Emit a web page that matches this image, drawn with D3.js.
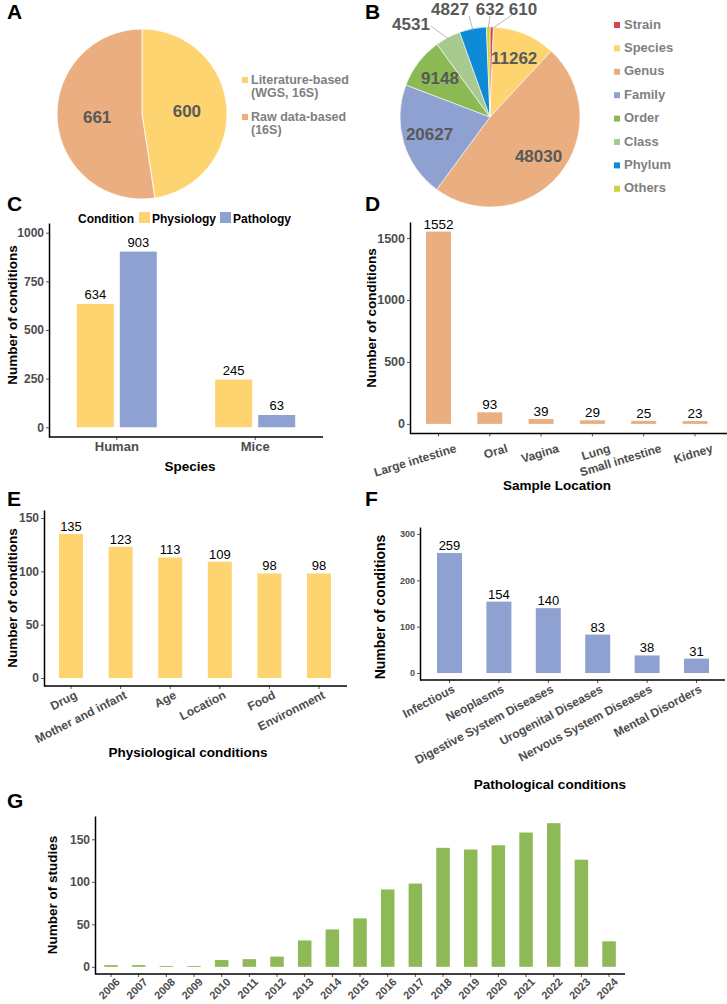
<!DOCTYPE html>
<html>
<head>
<meta charset="utf-8">
<script src="https://cdn.jsdelivr.net/npm/d3@7"></script>
<style>
  body { margin: 0; background: #fff; }
  svg { font-family: "Liberation Sans", Arial, sans-serif; }
</style>
</head>
<body>
<svg id="fig" width="727" height="1004"></svg>
<script>
// ---- data ----
var sourceTypes = ["Literature-based (WGS, 16S)", "Raw data-based (16S)"]
var sourceCounts = [600, 661]

var ranks = ["Strain", "Species", "Genus", "Family", "Order", "Class", "Phylum", "Others"]
var rankCounts = [610, 11262, 48030, 20627, 9148, 4531, 4827, 632]

var species = ["Human", "Mice"]
var physiologyCounts = [634, 245]
var pathologyCounts = [903, 63]

var locations = ["Large intestine", "Oral", "Vagina", "Lung", "Small intestine", "Kidney"]
var locationCounts = [1552, 93, 39, 29, 25, 23]

var physioConditions = ["Drug", "Mother and infant", "Age", "Location", "Food", "Environment"]
var physioCounts = [135, 123, 113, 109, 98, 98]

var pathoConditions = ["Infectious", "Neoplasms", "Digestive System Diseases", "Urogenital Diseases", "Nervous System Diseases", "Mental Disorders"]
var pathoCounts = [259, 154, 140, 83, 38, 31]

var years = ["2006","2007","2008","2009","2010","2011","2012","2013","2014","2015","2016","2017","2018","2019","2020","2021","2022","2023","2024"]
var studyCounts = [2, 2, 1, 1, 8, 9, 12, 31, 44, 57, 91, 98, 140, 138, 143, 158, 169, 126, 30]

var cTicks = [0, 250, 500, 750, 1000]
var dTicks = [0, 500, 1000, 1500]
var eTicks = [0, 50, 100, 150]
var fTicks = [0, 100, 200, 300]
var gTicks = [0, 50, 100, 150]

// ---- colours ----
var yellow = "#FDD470"
var orange = "#EAAE80"
var blue = "#8FA1D0"
var green = "#8DB956"
var rankColors = ["#D9434B", "#FDD470", "#EAAE80", "#8FA1D0", "#8BBA55", "#A8C98F", "#0E8AD7", "#C9D43A"]
var tickGray = "#4D4D4D"
var pieText = "#595959"
var legendGray = "#7F7F7F"

var svg = d3.select("#fig")
svg.append("rect").attr("width", 727).attr("height", 1004).attr("fill", "#fff")

function panelLetter(t, x, y) {
    svg.append("text").attr("x", x).attr("y", y)
        .style("font-size", "21px").style("font-weight", "bold").attr("fill", "#000")
        .text(t)
}

// ================= A : pie =================
panelLetter("A", 7, 19)
var pieGen = d3.pie().sort(null).value(d => d)
var gA = svg.append("g").attr("transform", "translate(142,114)")
var arcA = d3.arc().innerRadius(0).outerRadius(85)
var labA = d3.arc().innerRadius(45).outerRadius(45)
var aColors = [yellow, orange]
var arcsA = pieGen(sourceCounts)
gA.selectAll("path").data(arcsA).enter().append("path")
    .attr("d", arcA).attr("fill", (d, i) => aColors[i])
    .attr("stroke", "#fff").attr("stroke-width", 0.8)
gA.selectAll("text").data(arcsA).enter().append("text")
    .attr("transform", d => "translate(" + labA.centroid(d) + ")")
    .attr("text-anchor", "middle").attr("dy", "0.35em")
    .style("font-size", "17px").style("font-weight", "bold").attr("fill", pieText)
    .text(d => d.data)

var legA = svg.append("g").attr("transform", "translate(242,0)")
var aLines = [["Literature-based", "(WGS, 16S)"], ["Raw data-based", "(16S)"]]
sourceTypes.forEach(function(s, i) {
    var y0 = 84 + i * 37
    legA.append("rect").attr("x", 0).attr("y", y0 - 7).attr("width", 6).attr("height", 6).attr("fill", aColors[i])
    aLines[i].forEach(function(l, j) {
        legA.append("text").attr("x", 9).attr("y", y0 + j * 13)
            .style("font-size", "12.5px").style("font-weight", "bold").attr("fill", legendGray)
            .text(l)
    })
})

// ================= B : pie =================
panelLetter("B", 365, 19)
var cxB = 490, cyB = 117, rB = 90
var gB = svg.append("g").attr("transform", "translate(" + cxB + "," + cyB + ")")
var arcB = d3.arc().innerRadius(0).outerRadius(rB)
var labB = d3.arc().innerRadius(rB * 0.7).outerRadius(rB * 0.7)
var edgeB = d3.arc().innerRadius(rB - 2).outerRadius(rB - 2)
var arcsB = pieGen(rankCounts)
gB.selectAll("path").data(arcsB).enter().append("path")
    .attr("d", arcB).attr("fill", (d, i) => rankColors[i])
    .attr("stroke", "#fff").attr("stroke-width", 0.6)

// big slices get their label inside
var insideRanks = ["Species", "Genus", "Family", "Order"]
gB.selectAll("text.inside").data(arcsB.filter((d, i) => insideRanks.includes(ranks[i]))).enter()
    .append("text").attr("class", "inside")
    .attr("transform", d => "translate(" + labB.centroid(d) + ")")
    .attr("text-anchor", "middle").attr("dy", "0.3em")
    .style("font-size", "17px").style("font-weight", "bold").attr("fill", pieText)
    .text(d => d.data)

// small slices: labels above with leader lines (label offsets are layout only)
var outside = { "Class": [-79, -93], "Phylum": [-40, -108], "Others": [0, -108], "Strain": [33, -108] }
var lineStart = { "Class": [-59, -91], "Phylum": [-21, -101], "Others": [0, -101], "Strain": [22, -102] }
arcsB.forEach(function(d, i) {
    var r = ranks[i]
    if (!outside[r]) return
    var e = edgeB.centroid(d)
    gB.append("line")
        .attr("x1", lineStart[r][0]).attr("y1", lineStart[r][1])
        .attr("x2", e[0]).attr("y2", e[1])
        .attr("stroke", "#A6A6A6").attr("stroke-width", 0.8)
    gB.append("text")
        .attr("x", outside[r][0]).attr("y", outside[r][1]).attr("dy", "0.35em")
        .attr("text-anchor", "middle")
        .style("font-size", "17px").style("font-weight", "bold").attr("fill", pieText)
        .text(d.data)
})

var legB = svg.append("g").attr("transform", "translate(614,0)")
ranks.forEach(function(r, i) {
    var y0 = 24 + i * 23.4
    legB.append("rect").attr("x", 0).attr("y", y0 - 2).attr("width", 6).attr("height", 6).attr("fill", rankColors[i])
    legB.append("text").attr("x", 10).attr("y", y0).attr("dy", "0.35em")
        .style("font-size", "13px").style("font-weight", "bold").attr("fill", legendGray)
        .text(r)
})

// ================= axes helpers =================
function yAxis(g, y, x0, ticks, font) {
    var ya = g.append("g").attr("transform", "translate(" + x0 + ",0)")
        .call(d3.axisLeft(y).tickValues(ticks).tickFormat(d3.format("d")).tickSize(3).tickSizeOuter(0).tickPadding(2))
    ya.select(".domain").attr("stroke", "#000").attr("stroke-width", 1.5)
    ya.selectAll(".tick line").attr("stroke", "#555")
    ya.selectAll(".tick text").style("font-size", font).style("font-weight", "bold").attr("fill", tickGray)
    return ya
}

// x axis: tick marks from d3, labels drawn separately so they can be rotated
function xAxis(g, x, base, left, right, o) {
    var xa = g.append("g").attr("transform", "translate(0," + base + ")")
        .call(d3.axisBottom(x).tickSize(3).tickSizeOuter(0))
    xa.select(".domain").remove()
    xa.selectAll(".tick line").attr("stroke", "#555")
    xa.selectAll(".tick text").remove()
    g.append("line").attr("x1", left).attr("x2", right)
        .attr("y1", base).attr("y2", base).attr("stroke", "#000").attr("stroke-width", 1.5)
    var off = x.bandwidth ? x.bandwidth() / 2 : 0
    x.domain().forEach(function(c) {
        var px = x(c) + off
        var t = g.append("text")
            .style("font-size", o.xFont).style("font-weight", "bold").attr("fill", tickGray)
        if (o.angle) {
            t.attr("transform", "translate(" + (px + o.xShift) + "," + (base + o.xDrop) + ") rotate(" + (-o.angle) + ")")
                .attr("text-anchor", "end").attr("dy", "0.72em")
        } else {
            t.attr("x", px).attr("y", base + o.xDrop).attr("text-anchor", "middle").attr("dy", "0.72em")
        }
        t.text(c)
    })
}

function yTitle(g, text, x, y, font) {
    g.append("text")
        .attr("transform", "translate(" + x + "," + y + ") rotate(-90)")
        .attr("text-anchor", "middle").attr("dy", "0.35em")
        .style("font-size", font || "13.5px").style("font-weight", "bold").attr("fill", "#000")
        .text(text)
}

function xTitle(g, text, x, y) {
    g.append("text").attr("x", x).attr("y", y).attr("text-anchor", "middle")
        .style("font-size", "13.5px").style("font-weight", "bold").attr("fill", "#000")
        .text(text)
}

function barPanel(o) {
    var g = svg.append("g")
    var n = o.cats.length
    var inner = 1 - o.barW / o.step
    var x = d3.scaleBand().domain(o.cats)
        .range([o.c0 - o.step / 2, o.c0 - o.step / 2 + n * o.step])
        .paddingInner(inner).paddingOuter(inner / 2)
    var y = d3.scaleLinear().domain(o.yDomain).range(o.yRange)

    g.selectAll("rect.bar").data(o.vals).enter().append("rect").attr("class", "bar")
        .attr("x", (d, i) => x(o.cats[i]))
        .attr("width", x.bandwidth())
        .attr("y", d => y(d))
        .attr("height", d => y(0) - y(d))
        .attr("fill", o.color)

    if (o.showValues) {
        g.selectAll("text.val").data(o.vals).enter().append("text").attr("class", "val")
            .attr("x", (d, i) => x(o.cats[i]) + x.bandwidth() / 2)
            .attr("y", d => y(d) - 3)
            .attr("text-anchor", "middle")
            .style("font-size", o.valFont).attr("fill", "#000")
            .text(d => d)
    }

    yAxis(g, y, o.axisLeft, o.ticks, o.tickFont)
    xAxis(g, x, o.yRange[0], o.axisLeft, o.axisRight, o)
    if (o.title) xTitle(g, o.title, o.titleX, o.titleY)
    yTitle(g, o.ylab, o.ylabX, o.ylabY, o.ylabFont)
}

// ================= C : grouped bars =================
panelLetter("C", 7, 211)
var yC = d3.scaleLinear().domain([-50, 1050]).range([437, 223])
var xC = d3.scaleBand().domain(species).range([49 + 124.5 * 0.1, 323 - 124.5 * 0.1]).paddingInner(0.2).paddingOuter(0)
var gC = svg.append("g")
var condSeries = [{ key: "Physiology", vals: physiologyCounts, color: yellow },
                  { key: "Pathology", vals: pathologyCounts, color: blue }]
var barWC = 37
condSeries.forEach(function(s, k) {
    var off = k === 0 ? -3 - barWC : 3
    gC.selectAll("rect.b" + k).data(s.vals).enter().append("rect").attr("class", "b" + k)
        .attr("x", (d, i) => xC(species[i]) + xC.bandwidth() / 2 + off)
        .attr("width", barWC)
        .attr("y", d => yC(d))
        .attr("height", d => yC(0) - yC(d))
        .attr("fill", s.color)
    gC.selectAll("text.v" + k).data(s.vals).enter().append("text").attr("class", "v" + k)
        .attr("x", (d, i) => xC(species[i]) + xC.bandwidth() / 2 + off + barWC / 2)
        .attr("y", d => yC(d) - 5)
        .attr("text-anchor", "middle").style("font-size", "13px").attr("fill", "#000")
        .text(d => d)
})
yAxis(gC, yC, 49, cTicks, "12px")
xAxis(gC, xC, 437, 49, 323, { xFont: "13px", xDrop: 5 })
xTitle(gC, "Species", 190, 471)
yTitle(gC, "Number of conditions", 12, 315)
// legend, laid out left to right
var legC = gC.append("g")
var lx = 78
var lt = legC.append("text").attr("x", lx).attr("y", 223).style("font-size", "12px").style("font-weight", "bold").text("Condition")
lx += lt.node().getComputedTextLength() + 5
condSeries.forEach(function(s) {
    legC.append("rect").attr("x", lx).attr("y", 212).attr("width", 11).attr("height", 11).attr("fill", s.color)
    lx += 13
    var t = legC.append("text").attr("x", lx).attr("y", 223).style("font-size", "12px").style("font-weight", "bold").text(s.key)
    lx += t.node().getComputedTextLength() + 4
})

// ================= D =================
panelLetter("D", 365, 211)
barPanel({
    cats: locations, vals: locationCounts, color: orange,
    c0: 438.5, step: 51.3, barW: 25, axisLeft: 410, axisRight: 727,
    yDomain: [-77.6, 1629.6], yRange: [433.5, 222], ticks: dTicks,
    tickFont: "12.5px", xFont: "12px", angle: 17, xDrop: 10, xShift: 16,
    showValues: true, valFont: "13.5px",
    title: "Sample Location", titleX: 557, titleY: 490,
    ylab: "Number of conditions", ylabX: 371, ylabY: 318
})

// ================= E =================
panelLetter("E", 7, 506)
barPanel({
    cats: physioConditions, vals: physioCounts, color: yellow,
    c0: 71, step: 49.6, barW: 24, axisLeft: 44, axisRight: 347,
    yDomain: [-7.5, 157.5], yRange: [686, 510], ticks: eTicks,
    tickFont: "12px", xFont: "12px", angle: 27, xDrop: 4, xShift: 3,
    showValues: true, valFont: "13px",
    title: "Physiological conditions", titleX: 188, titleY: 757,
    ylab: "Number of conditions", ylabX: 12, ylabY: 598
})

// ================= F =================
panelLetter("F", 365, 506)
barPanel({
    cats: pathoConditions, vals: pathoCounts, color: blue,
    c0: 449.5, step: 49.4, barW: 25, axisLeft: 420, axisRight: 725,
    yDomain: [-15, 315], yRange: [680, 527], ticks: fTicks,
    tickFont: "9px", xFont: "12px", angle: 28, xDrop: 4, xShift: 2,
    showValues: true, valFont: "13px",
    title: "Pathological conditions", titleX: 550, titleY: 789,
    ylab: "Number of conditions", ylabX: 380, ylabY: 607, ylabFont: "14px"
})

// ================= G =================
panelLetter("G", 7, 808)
barPanel({
    cats: years, vals: studyCounts, color: green,
    c0: 111, step: 27.67, barW: 13.5, axisLeft: 95, axisRight: 625,
    yDomain: [-8.45, 177.45], yRange: [974, 816], ticks: gTicks,
    tickFont: "12px", xFont: "11px", angle: 45, xDrop: 3, xShift: 4,
    showValues: false,
    ylab: "Number of studies", ylabX: 52, ylabY: 895
})
</script>
</body>
</html>
